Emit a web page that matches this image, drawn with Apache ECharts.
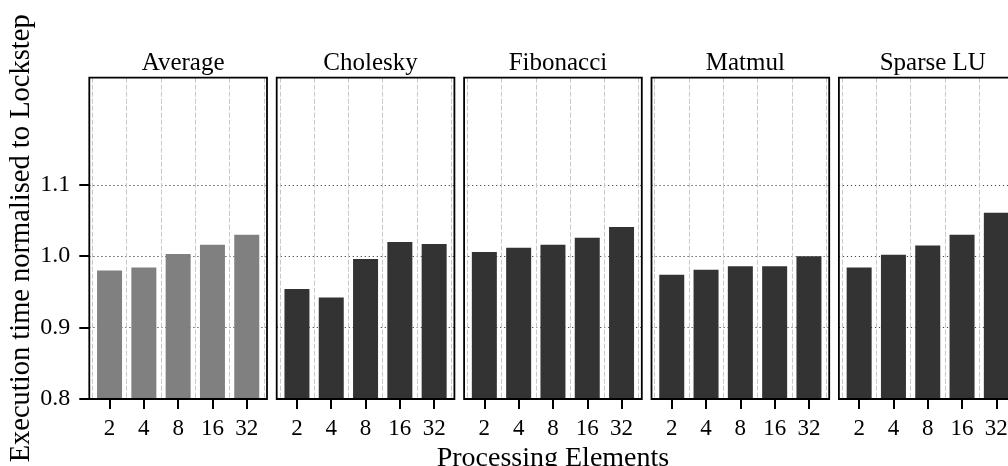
<!DOCTYPE html>
<html>
<head>
<meta charset="utf-8">
<script src="https://cdn.jsdelivr.net/npm/echarts@6/dist/echarts.min.js"></script>
<style>
  html, body { margin: 0; padding: 0; background: #fff; }
  #chart { width: 1008px; height: 466px; }
</style>
</head>
<body>
<div id="chart"></div>
<script>
// x categories (number of processing elements)
const peCounts = ['2', '4', '8', '16', '32']
const benchmarks = ['Average', 'Cholesky', 'Fibonacci', 'Matmul', 'Sparse LU']

// execution time normalised to lockstep
const averageVals = [0.980, 0.984, 1.003, 1.016, 1.030]
const choleskyVals = [0.954, 0.942, 0.996, 1.020, 1.017]
const fibonacciVals = [1.006, 1.012, 1.016, 1.026, 1.041]
const matmulVals = [0.974, 0.981, 0.986, 0.986, 1.000]
const sparseLuVals = [0.984, 1.002, 1.015, 1.030, 1.061]

const yMin = 0.8
const yMax = 1.25
const yTickMax = 1.1 // ticks / dotted lines stop here
const yStep = 0.1

const panelValues = [averageVals, choleskyVals, fibonacciVals, matmulVals, sparseLuVals]
const barColors = ['#808080', '#333333', '#333333', '#333333', '#333333']

// ===== layout (px) =====
const FONT = '"Liberation Serif", "Times New Roman", serif'
const frameLeft0 = 89.3
const panelStep = 187.4
const frameW = 177.7
const frameTop = 77.7
const frameH = 321.3
const catW = 34.3
const innerPad = (frameW - catW * peCounts.length) / 2
const linesTop = frameTop + frameH * (1 - (yTickMax - yMin) / (yMax - yMin))

const grid = []
const xAxis = []
const yAxis = []
const series = []
const title = []

benchmarks.forEach((name, i) => {
  const left = frameLeft0 + i * panelStep
  const base = i * 3

  // 1) frame (border) + y-axis title on the first panel
  grid.push({
    left, top: frameTop, width: frameW, height: frameH, outerBoundsMode: 'none',
    show: true, borderColor: '#000', borderWidth: 1.8,
    backgroundColor: 'transparent', z: 5,
  })
  xAxis.push({ gridIndex: base, type: 'value', show: false })
  yAxis.push({
    gridIndex: base, type: 'value', min: yMin, max: yMax,
    show: i === 0,
    axisLine: { show: false }, axisTick: { show: false },
    axisLabel: { show: false }, splitLine: { show: false },
    name: i === 0 ? 'Execution time normalised to Lockstep' : '',
    nameLocation: 'middle', nameGap: 53,
    nameTextStyle: { fontFamily: FONT, fontSize: 28.5, color: '#000' },
  })

  // 2) dotted horizontal lines (0.8 .. 1.1) + y ticks on the first panel
  grid.push({
    left, top: linesTop, width: frameW, height: frameTop + frameH - linesTop,
    outerBoundsMode: 'none',
  })
  xAxis.push({ gridIndex: base + 1, type: 'value', show: false })
  yAxis.push({
    gridIndex: base + 1, type: 'value', min: yMin, max: yTickMax, interval: yStep,
    axisLine: { show: false },
    axisTick: { show: i === 0, length: 10, lineStyle: { color: '#000', width: 2 } },
    axisLabel: {
      show: i === 0, margin: 19, fontFamily: FONT, fontSize: 24, color: '#000',
      formatter: (v) => v.toFixed(1),
    },
    splitLine: { show: true, lineStyle: { color: '#444', width: 1, type: [1.2, 2.8] } },
  })

  // 3) bars on a category axis with matplotlib-like side margins
  grid.push({
    left: left + innerPad, top: frameTop, width: catW * peCounts.length, height: frameH,
    outerBoundsMode: 'none',
  })
  xAxis.push({
    gridIndex: base + 2, type: 'category', data: peCounts,
    axisLine: { show: false },
    axisTick: { show: true, alignWithLabel: true, length: 10, lineStyle: { color: '#000', width: 2 } },
    axisLabel: { margin: 18, fontFamily: FONT, fontSize: 23, color: '#000' },
    splitLine: { show: true, interval: 0, lineStyle: { color: '#c8c8c8', width: 1, type: [5, 2] } },
    name: i === 2 ? 'Processing Elements' : '',
    nameLocation: 'middle', nameGap: 39,
    nameTextStyle: { fontFamily: FONT, fontSize: 28, color: '#000' },
  })
  yAxis.push({ gridIndex: base + 2, type: 'value', min: yMin, max: yMax, show: false })

  series.push({
    name, type: 'bar', xAxisIndex: base + 2, yAxisIndex: base + 2,
    data: panelValues[i], barWidth: 25,
    itemStyle: { color: barColors[i] },
    z: 3,
  })

  title.push({
    text: name, left: left + frameW / 2, top: 46, textAlign: 'center',
    textStyle: { fontFamily: FONT, fontSize: 25, fontWeight: 'normal', color: '#000' },
  })
})

const chart = echarts.init(document.getElementById('chart'), null, { renderer: 'canvas' })
chart.setOption({
  animation: false,
  backgroundColor: '#fff',
  title,
  grid,
  xAxis,
  yAxis,
  series,
})
</script>
</body>
</html>
